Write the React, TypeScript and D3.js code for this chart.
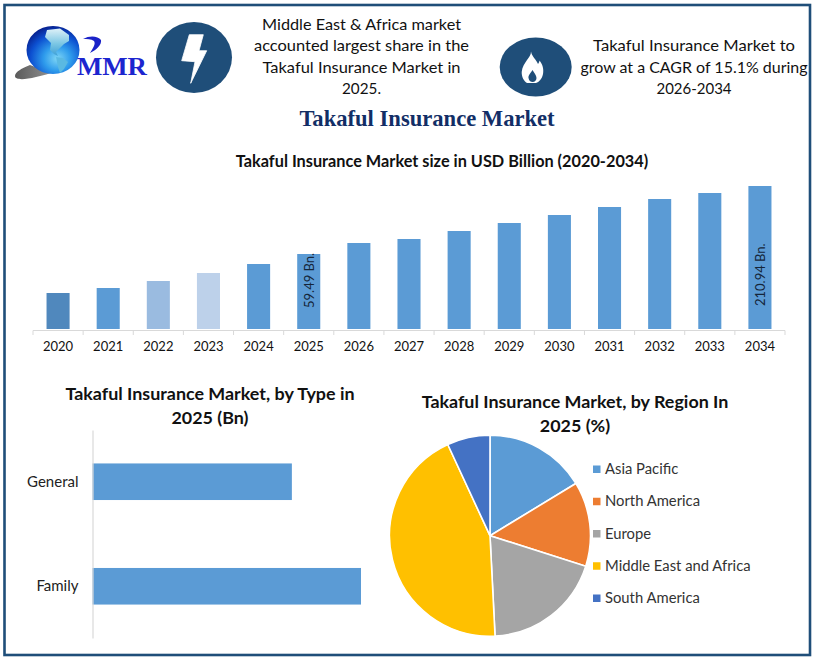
import React, { useEffect, useRef } from "react";
import * as d3 from "d3";

const years = ["2020","2021","2022","2023","2024","2025","2026","2027","2028","2029","2030","2031","2032","2033","2034"];
// Relative bar heights (the source bars are not drawn on a zero-based value scale)
const marketHeights = [36,41,48,56,65,75,86,90,98,106,114,122,130,136,143];
const barColors = ["#5088bd","#5b9bd5","#9abbe0","#bdd1ea","#5b9bd5","#5b9bd5","#5b9bd5","#5b9bd5","#5b9bd5","#5b9bd5","#5b9bd5","#5b9bd5","#5b9bd5","#5b9bd5","#5b9bd5"];
const barLabels: Record<string,string> = { "2025": "59.49 Bn.", "2034": "210.94 Bn." };

const types = ["General","Family"];
const typeValues = [25.35, 34.14];

const regions = ["Asia Pacific","North America","Europe","Middle East and Africa","South America"];
const regionValues = [16.3,13.6,19.3,43.9,6.9];
const regionColors = ["#5b9bd5","#ed7d31","#a5a5a5","#ffc000","#4472c4"];

const note1 = ["Middle East & Africa market","accounted largest share in the","Takaful Insurance Market in","2025."];
const note1Widths = [199,215,198,39];
const note2 = ["Takaful Insurance Market to","grow at a CAGR of 15.1% during","2026-2034"];
const note2Widths = [202,227,75];

const SANS = "Lato, 'Open Sans', sans-serif";
const NAVY = "#1f4e79";

export default function App() {
  const xAxisRef = useRef<SVGGElement>(null);
  const yAxisRef = useRef<SVGGElement>(null);

  const x = d3.scaleBand<string>().domain(years).range([33, 785]).paddingInner(0.54).paddingOuter(0.27);
  const y = d3.scaleLinear().domain([0, 143]).range([329, 186]);

  const ty = d3.scaleBand<string>().domain(types).range([430, 638]).paddingInner(0.65).paddingOuter(0.32);
  const tx = d3.scaleLinear().domain([0, 34.14]).range([92.5, 361]);

  const pie = d3.pie<number>().sort(null)(regionValues);
  const arc = d3.arc<d3.PieArcDatum<number>>().innerRadius(0).outerRadius(100.5);

  const legendY = d3.scalePoint<string>().domain(regions).range([469, 598]);

  useEffect(() => {
    const gx = d3.select(xAxisRef.current!);
    gx.call(d3.axisBottom(x).tickSize(0).tickPadding(11) as any);
    gx.select(".domain").remove();
    gx.selectAll("text").attr("font-family", SANS).attr("font-size", 13).attr("fill", "#111");
    const gy = d3.select(yAxisRef.current!);
    gy.call(d3.axisLeft(ty).tickSize(0).tickPadding(14) as any);
    gy.select(".domain").attr("stroke", "#d9d9d9").attr("stroke-width", 1.2);
    gy.selectAll("text").attr("font-family", SANS).attr("font-size", 15).attr("fill", "#222");
  }, []);

  const step = x.step();
  const tickXs = d3.range(0, years.length + 1).map(i => 33 + i * step);

  return (
    <svg width={816} height={660} viewBox="0 0 816 660" style={{ position: "absolute", left: 0, top: 0, background: "#fff" }}>
      <defs>
        <radialGradient id="globe" cx="0.58" cy="0.68" r="0.72">
          <stop offset="0" stopColor="#7fd6f5" />
          <stop offset="0.35" stopColor="#2f9cec" />
          <stop offset="0.7" stopColor="#0c4fd0" />
          <stop offset="1" stopColor="#061a86" />
        </radialGradient>
        <linearGradient id="swoosh" x1="0" x2="1" y1="0" y2="0">
          <stop offset="0" stopColor="#5a5a5a" />
          <stop offset="0.6" stopColor="#8e8e8e" />
          <stop offset="1" stopColor="#cfcfcf" />
        </linearGradient>
        <linearGradient id="land" x1="0" x2="0" y1="0" y2="1">
          <stop offset="0" stopColor="#dff1f8" />
          <stop offset="0.55" stopColor="#7cc7e4" />
          <stop offset="1" stopColor="#3d9fd6" />
        </linearGradient>
      </defs>
      <rect x={4.5} y={5} width={805.5} height={650} fill="#fff" stroke={NAVY} strokeWidth={2.6} />

      {/* logo */}
      <g>
        <path d="M72,63 C58,71 40,70 30,65 C22,68 15,72 15,76 C15,80 24,80 36,77 C50,74 63,70 72,63 Z" fill="url(#swoosh)" />
        <ellipse cx={53} cy={50} rx={26.5} ry={24} fill="url(#globe)" />
        <path d="M47,30 L60,28.5 L69,35 L69,41 L64,44 L60,48 L56,52 L58,56 L54,54 L50,50 L51,43 L45,37 Z" fill="url(#land)" />
        <path d="M56,57 L63,58 L68,62 L64,69 L60,73 L58,67 Z" fill="#5ab9e2" />
        <path d="M83,39 C90,35 98,36 101,40 C102,45 96,50 90,53 C93,48 96,44 94,41 C91,39 87,39 83,39 Z" fill="#1a22c8" />
        <text x={77} y={75} fontFamily="'Liberation Serif', serif" fontWeight={700} fontSize={25.5} fill="#1c25cf" textLength={70} lengthAdjust="spacingAndGlyphs">MMR</text>
      </g>

      {/* icons */}
      <ellipse cx={194} cy={57.5} rx={38} ry={35.5} fill={NAVY} />
      <path d="M189.3,34.7 L203.3,34.7 L199,50.7 L206.7,50.7 L190.7,83.3 L195,61.7 L181.7,60.7 Z" fill="#fff" stroke="#fff" strokeWidth={0.8} strokeLinejoin="round" />
      <ellipse cx={535.7} cy={67} rx={36} ry={29.5} fill={NAVY} />
      <path fillRule="evenodd" fill="#fff" d="M531,51.5 C532,57 536,59 538,64 C539,62.5 539.5,61.5 539.5,60.5 C542.5,64 544,69 543,74 C542,79 539,82 536,83 L527,83 C524,81 521.5,77 521.7,72 C522,67 525,63 527,60 C529,57 531,55 531,51.5 Z M532.5,70 C531,73 528,75 528.5,78 C529,81 531,82 532.5,82 C535,82 536.5,80 536.5,78 C536.5,75 534,73 532.5,70 Z" />

      {/* notes */}
      <g fontFamily={SANS} fontSize={16} fill="#111" textAnchor="middle">
        {note1.map((t, i) => <text key={t} x={361.5} y={30 + i * 21.3} textLength={note1Widths[i]} lengthAdjust="spacingAndGlyphs">{t}</text>)}
        {note2.map((t, i) => <text key={t} x={694} y={51 + i * 21.6} textLength={note2Widths[i]} lengthAdjust="spacingAndGlyphs">{t}</text>)}
      </g>

      <text x={427} y={126} textAnchor="middle" fontFamily="'Liberation Serif', serif" fontWeight={700} fontSize={22.6} fill="#122e66">Takaful Insurance Market</text>
      <text x={442} y={167} textAnchor="middle" fontFamily={SANS} fontWeight={700} fontSize={16.3} fill="#111">Takaful Insurance Market size in USD Billion (2020-2034)</text>

      {/* column chart */}
      {years.map((yr, i) => (
        <rect key={yr} x={x(yr)} y={y(marketHeights[i])} width={x.bandwidth()} height={y(0) - y(marketHeights[i])} fill={barColors[i]} />
      ))}
      {years.filter(yr => barLabels[yr]).map(yr => (
        <text key={yr} transform={`translate(${x(yr)! + x.bandwidth() / 2 + 5},${yr === "2025" ? 308 : 306}) rotate(-90)`} fontFamily={SANS} fontSize={13} fill="#15263a">{barLabels[yr]}</text>
      ))}
      <line x1={33} x2={785} y1={330.5} y2={330.5} stroke="#d9d9d9" strokeWidth={1.2} />
      {tickXs.map(t => <line key={t} x1={t} x2={t} y1={330.5} y2={335} stroke="#d9d9d9" strokeWidth={1} />)}
      <g ref={xAxisRef} transform="translate(0,331)" />

      {/* type chart */}
      <g fontFamily={SANS} fontWeight={700} fontSize={17.9} fill="#111" textAnchor="middle">
        <text x={210} y={400}>Takaful Insurance Market, by Type in</text>
        <text x={210} y={424}>2025 (Bn)</text>
        <text x={575} y={408}>Takaful Insurance Market, by Region In</text>
        <text x={575} y={432}>2025 (%)</text>
      </g>
      {types.map((t, i) => (
        <rect key={t} x={tx(0)} y={ty(t)} width={tx(typeValues[i]) - tx(0)} height={ty.bandwidth()} fill="#5b9bd5" />
      ))}
      <g ref={yAxisRef} transform="translate(92.5,0)" />

      {/* pie */}
      <g transform="translate(490,535.7)">
        {pie.map((d, i) => (
          <path key={regions[i]} d={arc(d)!} fill={regionColors[i]} stroke="#fff" strokeWidth={1.6} />
        ))}
      </g>
      {regions.map((r, i) => (
        <g key={r}>
          <rect x={593} y={legendY(r)! - 3.5} width={7.5} height={7.5} fill={regionColors[i]} />
          <text x={605} y={legendY(r)! + 5} fontFamily={SANS} fontSize={14.8} fill="#333">{r}</text>
        </g>
      ))}
    </svg>
  );
}
